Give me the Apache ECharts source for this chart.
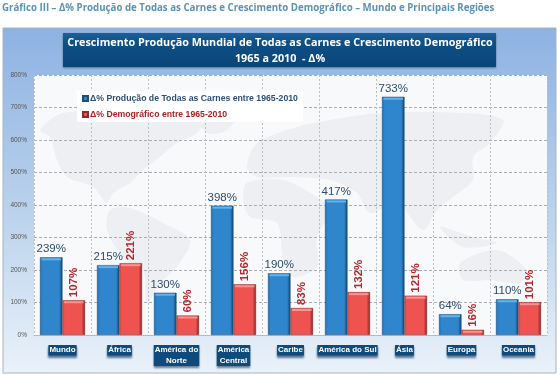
<!DOCTYPE html>
<html>
<head>
<meta charset="utf-8">
<style>html,body{margin:0;padding:0;background:#fff}#main{width:560px;height:375px}</style>
<script src="https://cdn.jsdelivr.net/npm/echarts@6/dist/echarts.min.js"></script>
</head>
<body>
<div id="main"></div>
<script>
// dados
var categorias = ['Mundo', 'África', 'América do\nNorte', 'América\nCentral', 'Caribe', 'América do Sul', 'Ásia', 'Europa', 'Oceania'];
var producao = [239, 215, 130, 398, 190, 417, 733, 64, 110];
var demografico = [107, 221, 60, 156, 83, 132, 121, 16, 101];
var nomeProducao = 'Δ% Produção de Todas as Carnes entre 1965-2010';
var nomeDemografico = 'Δ% Demográfico entre 1965-2010';

// mapa-múndi de fundo (só decoração, em pixels da página)
var continentes = [
    [[40,130],[63,113],[113,113],[147,120],[170,113],[203,120],[197,133],[177,143],[160,157],[143,170],[130,183],[113,193],[107,203],[93,187],[67,177],[57,160],[50,137]],
    [[197,113],[237,113],[227,130],[207,133]],
    [[110,210],[130,208],[163,223],[190,240],[177,267],[160,283],[147,303],[143,270],[123,257],[107,230]],
    [[247,183],[283,180],[317,197],[330,210],[317,237],[317,267],[293,277],[283,257],[277,223],[250,217],[243,200]],
    [[247,167],[257,143],[297,127],[330,120],[380,113],[463,113],[503,120],[490,143],[473,157],[473,180],[453,197],[437,210],[423,230],[397,203],[370,213],[357,193],[330,180],[290,177],[257,177]],
    [[440,227],[473,237],[497,243],[463,247]],
    [[460,263],[497,250],[527,270],[520,283],[490,280],[463,280]]
];

var chart = echarts.init(document.getElementById('main'));

function gradiente(a, b, c) {
    return new echarts.graphic.LinearGradient(0, 0, 1, 0, [
        {offset: 0, color: a}, {offset: 0.12, color: b}, {offset: 0.85, color: b}, {offset: 1, color: c}
    ]);
}

// brilho no topo de cada barra
function brilho(valores, lado, cor) {
    return {
        type: 'custom',
        silent: true,
        z: 3,
        data: valores.map(function (v, i) { return [i, v]; }),
        renderItem: function (params, api) {
            var p = api.coord([api.value(0), api.value(1)]);
            var larg = api.size([1, 0])[0] * 0.79 / 2;
            return {
                type: 'rect',
                shape: {x: p[0] + (lado < 0 ? -larg : 0) + 1.5, y: p[1] + 1, width: larg - 3, height: 2},
                style: {fill: cor}
            };
        }
    };
}

var graficos = [
    // moldura do gráfico
    {type: 'rect', z: -10, shape: {x: 3, y: 28, width: 553, height: 345}, style: {
        fill: new echarts.graphic.LinearGradient(0, 0, 0, 1, [{offset: 0, color: '#8db2e2'}, {offset: 0.55, color: '#bcd3ec'}, {offset: 1, color: '#eaf2fa'}]),
        stroke: '#a9b4bf', lineWidth: 1}},
    {type: 'rect', z: -9, shape: {x: 34, y: 75, width: 513, height: 260}, style: {fill: '#f7f9fb'}},
    // faixa do título
    {type: 'rect', z: 5, shape: {x: 63, y: 33, width: 433, height: 34}, style: {
        fill: new echarts.graphic.LinearGradient(0, 0, 0, 1, [{offset: 0, color: '#1a6099'}, {offset: 0.3, color: '#0d4f86'}, {offset: 1, color: '#0b4578'}]),
        shadowColor: 'rgba(0,0,0,0.4)', shadowBlur: 2, shadowOffsetY: 1}},
    {type: 'text', z: 6, x: 280, y: 51, style: {
        text: 'Crescimento Produção Mundial de Todas as Carnes e Crescimento Demográfico\n1965 a 2010  - Δ%',
        fill: '#fff', font: 'bold 10.8px "Open Sans"', align: 'center', verticalAlign: 'middle', lineHeight: 16}}
];
continentes.forEach(function (pts) {
    graficos.push({type: 'polygon', z: -8, shape: {points: pts, smooth: 0.3}, style: {fill: '#edeff2'}});
});

var option = {
    backgroundColor: '#fff',
    animation: false,
    title: {
        text: 'Gráfico III – Δ% Produção de Todas as Carnes e Crescimento Demográfico – Mundo e Principais Regiões',
        left: 2, top: 3, padding: 0,
        textStyle: {fontFamily: 'Open Sans', fontSize: 9.7, fontWeight: 'bold', color: '#5b93b5'}
    },
    legend: {
        orient: 'vertical', left: 77, top: 91, itemGap: 5, itemWidth: 5, itemHeight: 5,
        backgroundColor: '#fff', padding: [2, 5, 2, 5],
        data: [
            {name: nomeProducao, icon: 'rect', textStyle: {color: '#2f4f72'}},
            {name: nomeDemografico, icon: 'rect', textStyle: {color: '#a81f24'}}
        ],
        textStyle: {fontFamily: 'Liberation Sans', fontSize: 8.7, fontWeight: 'bold', lineHeight: 11, padding: [0, 0, 0, -3]}
    },
    grid: {left: 34, right: 13, top: 75, bottom: 40},
    xAxis: {
        type: 'category',
        data: categorias,
        axisTick: {length: 3, lineStyle: {color: '#aaa'}},
        axisLine: {lineStyle: {color: '#bbb'}},
        splitLine: {show: true, lineStyle: {type: [2, 2], color: '#bcc0c4', width: 1}},
        axisLabel: {
            interval: 0, margin: 10, color: '#fff', fontSize: 8, fontWeight: 'bold', lineHeight: 10.5,
            fontFamily: 'Liberation Sans',
            backgroundColor: '#0f4a7c', padding: [0, 1, 0, 1],
            shadowColor: 'rgba(0,30,70,0.6)', shadowBlur: 2, shadowOffsetY: 2
        }
    },
    yAxis: {
        type: 'value', min: 0, max: 800, interval: 100,
        axisLine: {show: false},
        axisTick: {show: false},
        splitLine: {lineStyle: {type: [3, 2], color: '#a9adb2', width: 1}},
        axisLabel: {formatter: '{value}%', color: '#555', fontFamily: 'Liberation Sans', fontSize: 6.5, margin: 7}
    },
    series: [
        {
            name: nomeProducao, type: 'bar', barGap: 0, barCategoryGap: '21%', data: producao,
            color: '#2a6ca8',
            itemStyle: {color: gradiente('#1f6db3', '#2f86cc', '#123f68'), borderColor: '#1d4f7c', borderWidth: 0.5},
            label: {show: true, position: 'top', distance: 2, formatter: '{c}%', color: '#2f4c6a', fontFamily: 'Liberation Sans', fontSize: 11.5}
        },
        {
            name: nomeDemografico, type: 'bar', data: demografico,
            color: '#b3282d',
            itemStyle: {color: gradiente('#e0504c', '#ef5350', '#7c2226'), borderColor: '#8a2b2d', borderWidth: 0.5},
            label: {show: true, position: 'top', distance: 3, rotate: 90, align: 'left', verticalAlign: 'middle', formatter: '{c}%', color: '#b3262b', fontFamily: 'Liberation Sans', fontSize: 11.5, fontWeight: 'bold'}
        },
        brilho(producao, -1, '#62b3ea'),
        brilho(demografico, 1, '#f59490')
    ],
    graphic: {elements: graficos}
};

chart.setOption(option);
</script>
</body>
</html>
